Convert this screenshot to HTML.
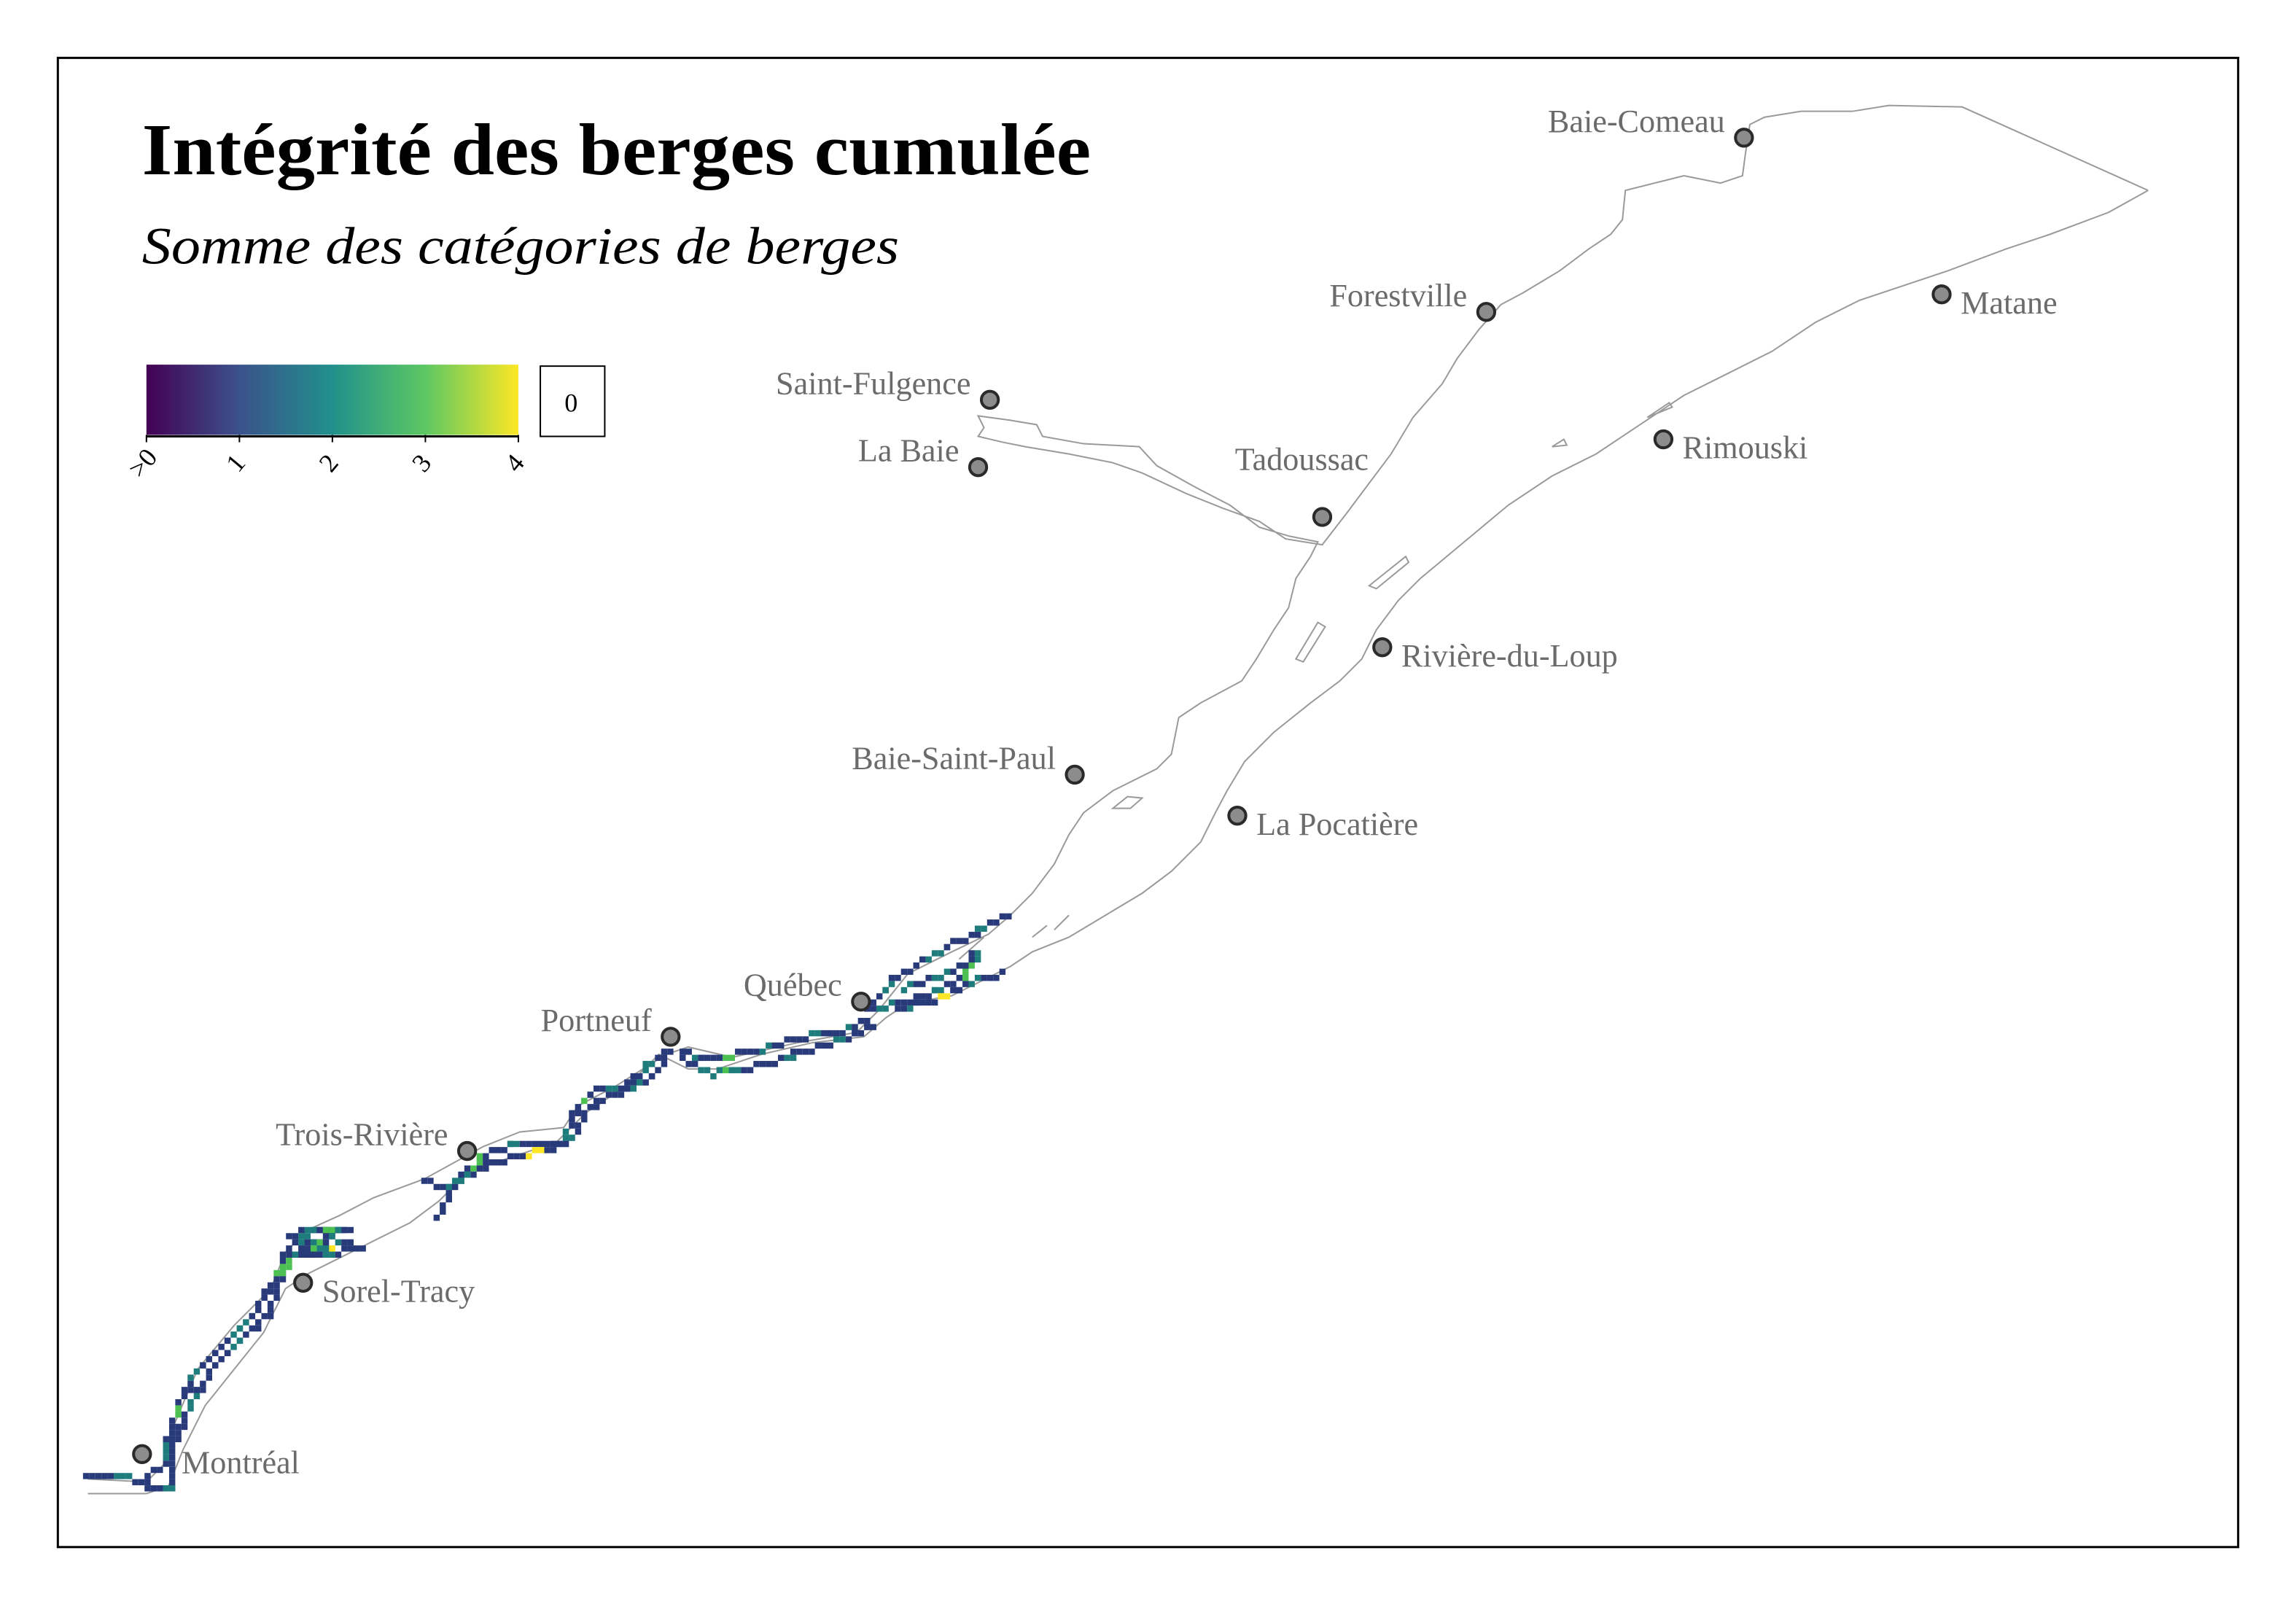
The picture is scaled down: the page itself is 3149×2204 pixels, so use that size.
<!DOCTYPE html>
<html><head><meta charset="utf-8">
<style>
html,body{margin:0;padding:0;background:#fff;}
svg{display:block;}
text{font-family:"Liberation Serif",serif;}
.city{fill:#6b6b6b;font-size:22px;}
</style></head>
<body>
<svg id="chart" width="3149" height="2204" viewBox="0 0 1568 1097.4" xmlns="http://www.w3.org/2000/svg">
<defs>
<linearGradient id="vir" x1="0" x2="1" y1="0" y2="0">
<stop offset="0" stop-color="#440154"/><stop offset="0.25" stop-color="#3b528b"/>
<stop offset="0.5" stop-color="#21908c"/><stop offset="0.75" stop-color="#5dc863"/>
<stop offset="1" stop-color="#fde725"/>
</linearGradient>
</defs>
<rect x="0" y="0" width="1568" height="1097.4" fill="#fff"/>
<rect x="39.5" y="39.5" width="1489" height="1017" fill="none" stroke="#000" stroke-width="1.5"/>
<text x="97" y="119" font-size="50" font-weight="bold" textLength="648" lengthAdjust="spacingAndGlyphs">Intégrité des berges cumulée</text>
<text x="97" y="180" font-size="36" font-style="italic" textLength="517" lengthAdjust="spacingAndGlyphs">Somme des catégories de berges</text>

<g>
<rect x="100" y="249" width="254" height="48" fill="url(#vir)"/>
<line x1="100" y1="298" x2="354" y2="298" stroke="#000" stroke-width="1.5"/>
<g id="ticks"></g>
<rect x="369" y="250" width="44" height="48" fill="#fff" stroke="#000" stroke-width="1"/>
<text x="390" y="281" font-size="18" text-anchor="middle">0</text>
</g>

<g fill="none" stroke="#9a9a9a" stroke-width="1">
<polyline id="north-shore" points="60,1010 100,1012 112,1000 118,975 135,935 160,905 185,880 195,855 210,840 232,830 255,818 290,805 330,783 355,773 385,770 395,755 420,742 455,720 470,715 500,722 545,712 585,705 600,690 620,665 650,650 675,638 690,625 705,610 720,590 730,570 740,555 760,540 790,525 800,515 805,490 820,480 848,465 858,450 870,430 880,415 885,395 895,380 900,370 880,366 860,360 840,345 815,332 790,318 778,305 740,303 712,298 708,290 690,287 668,284 672,292 668,298 685,302 700,305 730,310 760,316 780,323 810,337 835,347 860,356 878,368 903,372 920,350 935,330 950,310 965,285 985,262 995,245 1010,225 1025,208 1040,200 1065,185 1085,170 1100,160 1108,150 1110,130 1130,125 1150,120 1175,125 1190,120 1192,105 1195,85 1205,80 1230,76 1265,76 1290,72 1340,73 1467,130"/>
<polyline id="south-shore" points="1467,130 1440,145 1400,160 1370,170 1330,185 1300,195 1270,205 1240,220 1210,240 1180,255 1150,270 1120,290 1090,310 1060,325 1030,345 1000,370 970,395 955,410 940,430 930,450 915,465 895,480 870,500 850,520 838,540 830,555 820,575 800,595 780,610 755,625 730,640 705,650 690,660 670,670 650,680 620,685 605,695 590,708 555,712 520,720 490,730 470,730 450,720 430,740 400,760 380,780 350,790 320,800 300,820 280,835 250,850 230,860 210,870 195,880 180,910 160,935 140,960 125,990 115,1015 100,1020 60,1020"/>
<path d="M760,552 L770,544 L780,545 L772,552 Z M885,450 L900,425 L905,428 L890,452 Z M935,400 L960,380 L962,384 L940,402 Z M1060,305 L1068,300 L1070,304 Z M1125,285 L1140,275 L1142,278 Z M705,640 L715,632 M720,635 L730,625 M655,655 L672,640"/>
</g>

<g id="cells"></g>
<g id="cities"></g>

<script>
// legend ticks
const tickLabels = [">0", "1", "2", "3", "4"];
// shoreline integrity values along each surveyed shore segment (0-4)
const valsNorthMtl = [1,1,2,1,1,1,2,1,1,3,1,1,2,1,1,1,2,2,1,1,1,3,1,1,2,1,1,1];
const valsSouthMtl = [1,2,1,1,1,1,1,2,1,1,1,1,2,1,1,1,1,1,3,1,1,2,1,1];
const valsSorel = [1,2,1,3,1,2,1,1,2,1,4,2,1,1,2,1,3,1,2,1];
const valsNorthTR = [1,1,2,1,3,1,1,2,1,1,1,2,1,1,3,1,2,1,1,2,1,1];
const valsSouthTR = [1,1,1,2,1,1,1,1,4,1,1,2,1,1,1,1,1,2,1,1];
const valsNorthQc = [1,2,1,1,3,1,1,2,4,1,1,1,2,1,1,2,1,1];
const valsSouthQc = [1,2,2,3,2,1,1,1,2,1,1,1,2,1,1,1];
const valsNorthEst = [1,1,2,1,1,1,2,1,1,1,2,1,1];
const valsOrleans = [2,1,1,2,1,3,2,1,1,2,1,2];
const valsSouthEst = [1,2,1,1,4,1,1,2,1,1];

const VMIN = 0, VMAX = 4;
const stops = [[68,1,84],[40,58,122],[30,124,124],[76,192,80],[253,231,37]];
function colorScale(v){
  let t = (v - VMIN) / (VMAX - VMIN) * (stops.length - 1);
  t = Math.max(0, Math.min(stops.length - 1, t));
  const i = Math.min(stops.length - 2, Math.floor(t)), f = t - i;
  const c = stops[i].map((a, k) => Math.round(a + (stops[i+1][k] - a) * f));
  return `rgb(${c[0]},${c[1]},${c[2]})`;
}
function xLegend(v){ return 100 + (v - VMIN) / (VMAX - VMIN) * 254; }

const NS = "http://www.w3.org/2000/svg";
const tg = document.getElementById("ticks");
tickLabels.forEach((lab, i) => {
  const x = xLegend(i);
  const l = document.createElementNS(NS, "line");
  l.setAttribute("x1", x); l.setAttribute("x2", x); l.setAttribute("y1", 297); l.setAttribute("y2", 302);
  l.setAttribute("stroke", "#000");
  
  
  tg.appendChild(l);
  const t = document.createElementNS(NS, "text");
  t.setAttribute("x", x + 2); t.setAttribute("y", 320);
  t.setAttribute("font-size", "18"); t.setAttribute("text-anchor", "middle");
  t.setAttribute("transform", `rotate(-50 ${x + 2} 320)`);
  t.textContent = lab;
  
  
  tg.appendChild(t);
});

// shore tracks (geometry of surveyed shorelines) paired with value arrays
const tracks = [
  [valsNorthMtl, [[60,1008],[100,1011],[112,1000],[120,965],[132,940],[150,920],[172,900],[190,870],[198,850],[215,842],[240,838]]],
  [valsSouthMtl, [[100,1018],[117,1018],[118,990],[130,960],[145,935],[165,915],[185,895],[193,870],[200,858],[230,856],[250,850]]],
  [valsSorel, [[198,845],[215,838],[235,840],[210,850],[230,852],[200,858],[225,845],[240,850]]],
  [valsNorthTR, [[290,806],[305,812],[330,790],[350,780],[385,782],[390,765],[405,745],[430,740],[450,722],[460,718]]],
  [valsSouthTR, [[300,832],[310,810],[335,795],[370,785],[390,780],[400,760],[415,748],[440,740],[455,726]]],
  [valsNorthQc, [[465,719],[490,724],[520,716],[550,708],[580,703],[595,694]]],
  [valsSouthQc, [[468,724],[485,733],[510,731],[540,721],[570,712],[600,700]]],
  [valsNorthEst, [[592,690],[610,670],[630,656],[660,640],[680,630],[690,624]]],
  [valsOrleans, [[602,688],[630,680],[658,668],[668,650],[655,662],[635,668],[618,676]]],
  [valsSouthEst, [[612,688],[640,684],[665,670],[686,664]]]
];
const cg = document.getElementById("cells");
const STEP = 4, SZ = 4.2;
tracks.forEach(([vals, pts]) => {
  let segs = [], total = 0;
  for (let i = 1; i < pts.length; i++) {
    const d = Math.hypot(pts[i][0]-pts[i-1][0], pts[i][1]-pts[i-1][1]);
    segs.push(d); total += d;
  }
  const n = Math.floor(total / STEP);
  for (let k = 0; k <= n; k++) {
    let s = k * STEP, j = 0;
    while (j < segs.length - 1 && s > segs[j]) { s -= segs[j]; j++; }
    const f = Math.min(1, s / segs[j]);
    const x = pts[j][0] + (pts[j+1][0]-pts[j][0]) * f;
    const y = pts[j][1] + (pts[j+1][1]-pts[j][1]) * f;
    const v = vals[Math.min(vals.length - 1, Math.floor(k * vals.length / (n + 1)))];
    const r = document.createElementNS(NS, "rect");
    r.setAttribute("x", (Math.round(x / SZ) * SZ - SZ / 2).toFixed(1));
    r.setAttribute("y", (Math.round(y / SZ) * SZ - SZ / 2).toFixed(1));
    r.setAttribute("width", SZ); r.setAttribute("height", SZ);
    r.setAttribute("fill", colorScale(v));
    
    
    cg.appendChild(r);
  }
});

// cities
const cityNames = ["Baie-Comeau","Forestville","Matane","Saint-Fulgence","La Baie","Tadoussac","Rimouski","Rivière-du-Loup","Baie-Saint-Paul","La Pocatière","Québec","Portneuf","Trois-Rivière","Sorel-Tracy","Montréal"];
const cityX = [1191,1015,1326,676,668,903,1136,944,734,845,588,458,319,207,97];
const cityY = [94,213,201,273,319,353,300,442,529,557,684,708,786,876,993];
const cityLabelSide = ["l","l","r","l","l","t","r","r","l","r","l","l","l","r","r"];
const cig = document.getElementById("cities");
cityNames.forEach((nm, i) => {
  const x = cityX[i], y = cityY[i], side = cityLabelSide[i];
  const c = document.createElementNS(NS, "circle");
  c.setAttribute("cx", x); c.setAttribute("cy", y); c.setAttribute("r", 5.8);
  c.setAttribute("fill", "#8c8c8c"); c.setAttribute("stroke", "#2a2a2a"); c.setAttribute("stroke-width", "2");
  
  
  cig.appendChild(c);
  const t = document.createElementNS(NS, "text");
  t.setAttribute("class", "city");
  if (side === "l") { t.setAttribute("x", x - 13); t.setAttribute("y", y - 4); t.setAttribute("text-anchor", "end"); }
  else if (side === "r") { t.setAttribute("x", x + 13); t.setAttribute("y", y + 13); }
  else { t.setAttribute("x", x - 14); t.setAttribute("y", y - 32); t.setAttribute("text-anchor", "middle"); }
  if (nm === "Montréal") t.setAttribute("x", x + 27);
  t.textContent = nm;
  
  
  cig.appendChild(t);
});
</script>
</svg>
</body></html>
